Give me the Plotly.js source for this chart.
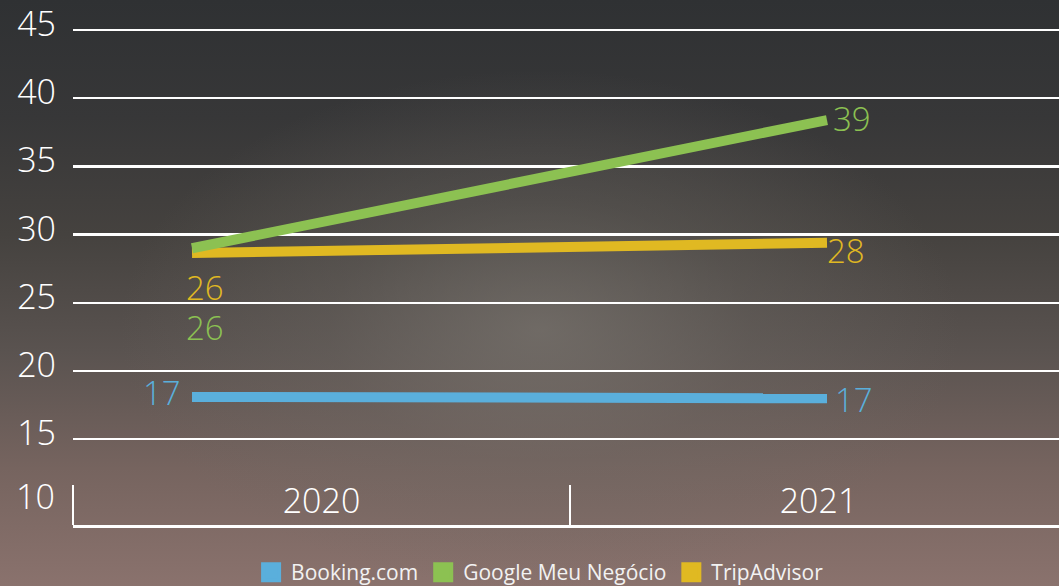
<!DOCTYPE html>
<html>
<head>
<meta charset="utf-8">
<script src="https://cdn.plot.ly/plotly-3.0.1.min.js"></script>
<style>
html,body{margin:0;padding:0;width:1059px;height:586px;overflow:hidden;}
body{
 background:
  radial-gradient(ellipse 420px 260px at 540px 330px, rgba(125,120,114,0.65) 0%, rgba(110,105,100,0.35) 50%, rgba(90,85,82,0) 100%),
  linear-gradient(to bottom, #2f3133 0%, #373738 20%, #45423f 40%, #5a5350 60%, #76645f 80%, #8a726d 100%);
}
#chart{width:1059px;height:586px;}
</style>
</head>
<body>
<div id="chart"></div>
<script>
// ---- data ----
const years = ['2020', '2021'];
const seriesNames = ['Booking.com', 'Google Meu Negócio', 'TripAdvisor'];
const seriesColors = ['#5aafdc', '#8cc152', '#e0b922'];
const booking = [18.1, 18.0];
const google = [29.0, 38.4];
const tripadvisor = [28.65, 29.4];
const bookingLabels = ['17', '17'];
const googleLabels = ['26', '39'];
const tripadvisorLabels = ['26', '28'];
const yTicks = [10, 15, 20, 25, 30, 35, 40, 45];

const xYears = years.map(Number);
const values = [booking, google, tripadvisor];
const labels = [bookingLabels, googleLabels, tripadvisorLabels];

const FONT = 'Open Sans, sans-serif';
const traces = [];
// draw order: Booking, TripAdvisor, Google (green on top)
[0, 2, 1].forEach(i => {
  traces.push({
    type: 'scatter', mode: 'lines', x: xYears, y: values[i],
    xaxis: 'x2', yaxis: 'y',
    line: {color: seriesColors[i], width: 10},
    showlegend: false, hoverinfo: 'skip'
  });
});
// legend entries (square swatches)
seriesNames.forEach((n, i) => {
  traces.push({
    type: 'scatter', mode: 'markers', x: [null], y: [null],
    xaxis: 'x', yaxis: 'y', name: n,
    marker: {symbol: 'square', size: 16, color: seriesColors[i], line: {color: seriesColors[i], width: 4}},
    showlegend: true, legendrank: i + 1
  });
});

// label offsets (pixels) per series per point
const offs = [
  [{xa: 'right', dx: -9, dy: 4}, {xa: 'left', dx: 6, dy: -1}],
  [{xa: 'left', dx: -8, dy: -79}, {xa: 'left', dx: 4, dy: 2}],
  [{xa: 'left', dx: -8, dy: -34}, {xa: 'left', dx: -2, dy: -8}]
];
const annotations = [];
values.forEach((vals, i) => {
  vals.forEach((v, j) => {
    annotations.push({
      xref: 'x2', yref: 'y', x: xYears[j], y: v, text: labels[i][j],
      showarrow: false, xanchor: offs[i][j].xa, yanchor: 'middle',
      xshift: offs[i][j].dx, yshift: offs[i][j].dy,
      font: {family: FONT, size: 33, color: seriesColors[i], weight: 300}
    });
  });
});
// lowest y tick label (sits beside the category axis)
annotations.push({
  xref: 'paper', yref: 'y', x: 0, y: yTicks[0], text: String(yTicks[0]),
  showarrow: false, xanchor: 'right', yanchor: 'middle', xshift: -16, yshift: 11,
  font: {family: FONT, size: 34, color: '#ffffff', weight: 300}
});

const layout = {
  width: 1059, height: 586,
  margin: {l: 73, r: 0, t: 0, b: 61},
  paper_bgcolor: 'rgba(0,0,0,0)', plot_bgcolor: 'rgba(0,0,0,0)',
  font: {family: FONT, color: '#ffffff'},
  xaxis: {
    type: 'linear', range: [-0.5, -0.5 + 986 / 497], fixedrange: true,
    tickmode: 'array', tickvals: years.map((y, i) => i), ticktext: years,
    ticks: '', showgrid: false, zeroline: false,
    showline: true, linecolor: '#ffffff', linewidth: 2.5,
    ticklabelposition: 'inside', ticklabelstandoff: 9,
    tickfont: {family: FONT, size: 34, color: '#ffffff', weight: 300},
    minor: {tickmode: 'array', tickvals: [-0.5, 0.5, 1.5], ticks: 'inside', ticklen: 40, tickwidth: 2.5, tickcolor: '#ffffff', showgrid: false}
  },
  xaxis2: {
    type: 'linear', overlaying: 'x', visible: false, fixedrange: true,
    range: [2020 - (192 - 73) / 635, 2021 + (1059 - 827) / 635]
  },
  yaxis: {
    range: [8.71, 47.2], fixedrange: true,
    tickmode: 'array', tickvals: yTicks.slice(1), ticks: '',
    showgrid: false, zeroline: false, showline: false,
    ticklabelstandoff: 16, ticklabelshift: -6, ticklabeloverflow: 'allow',
    tickfont: {family: FONT, size: 34, color: '#ffffff', weight: 300},
    minor: {tickmode: 'array', tickvals: yTicks.slice(1), ticks: '', showgrid: true, gridcolor: '#ffffff', gridwidth: 2.5}
  },
  showlegend: true,
  legend: {
    orientation: 'h', xref: 'container', yref: 'container',
    x: 0.51, xanchor: 'center', y: 0.058, yanchor: 'top',
    bgcolor: 'rgba(0,0,0,0)', font: {family: FONT, size: 21, color: '#f2f2f2'},
    itemclick: false, itemdoubleclick: false
  },
  annotations: annotations
};

Plotly.newPlot('chart', traces, layout, {staticPlot: true, displayModeBar: false});
</script>
</body>
</html>
